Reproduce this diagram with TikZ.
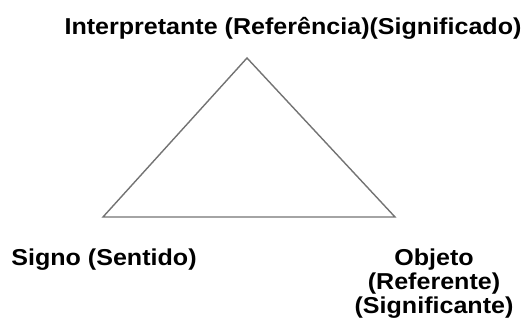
\documentclass[tikz,border=0pt]{standalone}
\usepackage{fontspec}
\setmainfont{Liberation Sans}
\begin{document}
\begin{tikzpicture}[x=1pt,y=1pt,
  lbl/.style={font=\fontsize{23}{24}\selectfont\bfseries, inner sep=0pt, align=center, xscale=1.09, transform shape},
  edge/.style={draw=black!55, line width=1.4pt}]
\useasboundingbox (0,0) rectangle (525,320);
\coordinate (A) at (247,262);
\coordinate (B) at (103,103);
\coordinate (C) at (395,103);
\draw[edge] (A) -- (B) -- (C) -- cycle;
\node[lbl] (interp) at (293,292) {Interpretante (Referência)(Significado)};
\node[lbl] (signo) at (104,60) {Signo (Sentido)};
\node[lbl] (objeto) at (434,36) {Objeto\\(Referente)\\(Significante)};
\end{tikzpicture}
\end{document}
